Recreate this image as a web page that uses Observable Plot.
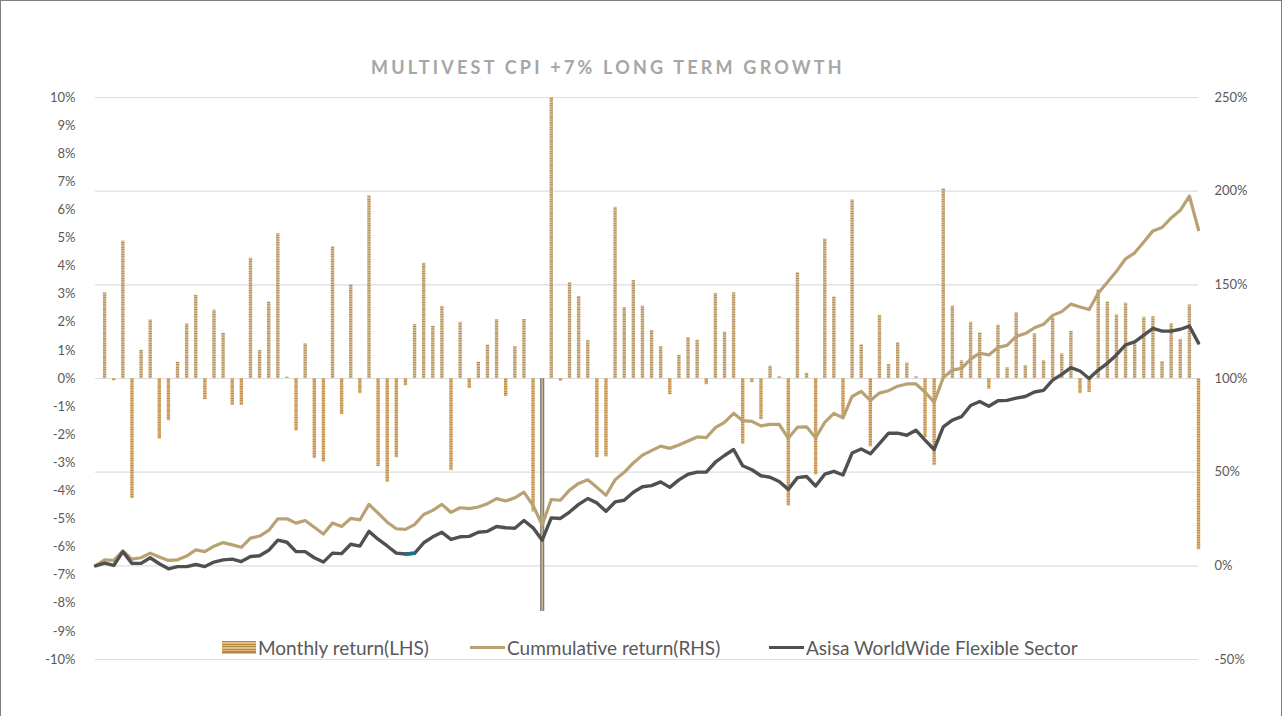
<!DOCTYPE html>
<html>
<head>
<meta charset="utf-8">
<script src="https://cdn.jsdelivr.net/npm/d3@7"></script>
<script src="https://cdn.jsdelivr.net/npm/@observablehq/plot@0.6"></script>
<style>
  body { margin: 0; background: #fff; }
  #frame { position: relative; width: 1280px; height: 720px; border: 1px solid #7f7f7f; overflow: hidden; font-family: Lato, "Open Sans", sans-serif; background: #fff; }
  #title { position: absolute; left: 0; top: 55px; width: 1214px; text-align: center; font-size: 18px; font-weight: 700; letter-spacing: 3.2px; color: #a6a6a6; }
  #chart { position: absolute; left: 0; top: 85px; }
  .leg { position: absolute; top: 635px; font-size: 19px; color: #595959; display: flex; align-items: center; white-space: nowrap; }
  .sw-bar { width: 34px; height: 13px; margin-right: 2px; background: repeating-linear-gradient(to bottom, #b8873e 0px, #b8873e 1.3px, #e2bf8a 1.3px, #e2bf8a 2.6px); }
  .sw-line { width: 35px; height: 3.5px; margin-right: 2px; }
</style>
</head>
<body>
<div id="frame">
  <div id="title">MULTIVEST CPI +7% LONG TERM GROWTH</div>
  <div id="chart"></div>
  <div class="leg" style="left:221px"><span class="sw-bar"></span>Monthly return(LHS)</div>
  <div class="leg" style="left:469px"><span class="sw-line" style="background:#b8a274"></span>Cummulative return(RHS)</div>
  <div class="leg" style="left:768px"><span class="sw-line" style="background:#505050"></span>Asisa WorldWide Flexible Sector</div>
</div>
<script>
// Monthly return (LHS, %), months 1..121
const monthly = [3.05, -0.08, 4.89, -4.27, 1.0, 2.08, -2.16, -1.5, 0.58, 1.94,
  2.96, -0.75, 2.43, 1.61, -0.96, -0.96, 4.28, 0.99, 2.72, 5.16,
  0.05, -1.86, 1.23, -2.85, -2.97, 4.69, -1.29, 3.33, -0.54, 6.5,
  -3.13, -3.7, -2.82, -0.26, 1.92, 4.1, 1.86, 2.57, -3.28, 2.0,
  -0.36, 0.58, 1.19, 2.09, -0.64, 1.14, 2.1, -4.75, -8.29, 10.0,
  -0.1, 3.41, 2.92, 1.35, -2.82, -2.79, 6.09, 2.52, 3.49, 2.58,
  1.71, 1.14, -0.58, 0.83, 1.45, 1.36, -0.22, 3.03, 1.65, 3.05,
  -2.34, -0.14, -1.47, 0.44, 0.06, -4.54, 3.76, 0.19, -3.43, 4.96,
  2.9, -1.42, 6.35, 1.2, -2.43, 2.25, 0.5, 1.27, 0.55, 0.06,
  -2.1, -3.1, 6.75, 2.58, 0.63, 2.0, 1.62, -0.38, 1.9, 0.38,
  2.34, 0.46, 1.59, 0.63, 2.16, 0.88, 1.68, -0.54, -0.5, 3.15,
  2.72, 2.26, 2.68, 1.23, 2.18, 2.2, 0.6, 1.95, 1.39, 2.62, -6.09];

// Highlighted (grey) month
const highlightMonth = 49;

// Cumulative return (RHS, %), months 0..121
const cumulative = [0, 3.2, 2.9, 8.0, 3.6, 4.3, 6.8, 4.7, 2.9, 3.2, 5.2, 8.5, 7.6, 10.5, 12.4, 11.2, 9.9, 14.8, 15.9, 18.9, 25.1,
  25.1, 22.8, 24.2, 20.6, 17.0, 22.8, 21.0, 25.3, 24.5, 32.8, 28.1, 23.3, 19.8, 19.5, 22.0, 27.4, 29.6, 32.8, 28.5, 31.0, 30.5,
  31.4, 33.2, 35.9, 34.6, 36.3, 39.3, 32.3, 21.8, 35.4, 35.0, 40.4, 44.0, 45.9, 41.9, 37.7, 45.9, 49.9, 54.9, 59.1, 61.5,
  63.9, 62.7, 64.5, 66.6, 68.8, 68.4, 73.8, 76.6, 81.4, 77.5, 77.1, 74.7, 75.5, 75.5, 68.1, 74.0, 74.2, 68.4, 76.6, 81.4, 79.0,
  90.4, 93.1, 88.3, 92.2, 93.5, 95.9, 97.1, 97.1, 92.8, 87.4, 100.4, 104.5, 105.4, 110.3, 113.5, 112.6, 116.6, 117.7, 122.5, 124.0,
  127.1, 128.9, 133.7, 135.7, 139.7, 138.2, 136.8, 145.5, 151.4, 157.2, 163.9, 167.1, 172.9, 178.8, 180.6, 185.7, 189.8, 197.4, 179.4];

// Asisa WorldWide Flexible Sector (RHS, %), months 0..121
const sector = [0, 1.4, 0.2, 7.6, 1.3, 1.3, 4.3, 1.1, -1.6, -0.4, -0.4, 0.7, -0.4, 2.0, 3.2, 3.6, 2.3, 5.0, 5.4, 8.3, 13.7,
  12.6, 7.6, 7.6, 4.3, 2.0, 6.8, 6.5, 11.5, 10.5, 18.4, 14.2, 10.6, 6.8, 6.3, 6.7, 12.3, 15.5, 17.9, 14.1, 15.5, 15.7,
  17.9, 18.4, 21.0, 20.3, 20.1, 24.2, 20.3, 13.7, 25.6, 25.3, 28.7, 32.8, 35.9, 33.6, 29.1, 34.1, 35.0, 39.3, 42.2, 42.8,
  44.8, 41.9, 45.9, 48.9, 50.0, 50.0, 55.3, 58.9, 62.1, 53.4, 51.3, 48.1, 47.3, 45.0, 40.8, 47.1, 47.7, 42.6, 48.9, 50.4, 48.5,
  60.2, 62.4, 59.8, 65.2, 70.8, 70.8, 69.7, 72.4, 67.1, 62.1, 74.2, 77.8, 79.6, 85.6, 87.7, 85.2, 88.1, 88.3, 89.5, 90.4,
  92.8, 93.7, 99.1, 102.2, 105.8, 104.0, 100.0, 104.5, 108.1, 112.6, 118.0, 119.5, 123.1, 126.7, 125.3, 125.3, 126.3, 128.0, 118.9];

// Teal-coloured segment of the sector line (months)
const tealSegment = [34, 35];

const leftTicks = [10, 9, 8, 7, 6, 5, 4, 3, 2, 1, 0, -1, -2, -3, -4, -5, -6, -7, -8, -9, -10];
const rightTicks = [250, 200, 150, 100, 50, 0, -50];

// RHS -> LHS mapping: -50..250 <-> -10..10
const toLeft = r => (r - 100) / 15;
const toRight = l => l * 15 + 100;

const bars = monthly.map((v, i) => ({k: i + 1, v}));
const cum = cumulative.map((v, k) => ({k, v}));
const sec = sector.map((v, k) => ({k, v}));
const teal = sec.filter(d => d.k >= tealSegment[0] && d.k <= tealSegment[1]);

const plot = Plot.plot({
  width: 1280,
  height: 630,
  marginTop: 11,
  marginBottom: 57,
  marginLeft: 94,
  marginRight: 83,
  style: {color: "#595959", fontFamily: "Lato, 'Open Sans', sans-serif", fontSize: "13px", background: "transparent"},
  x: {domain: [0, monthly.length], axis: null},
  y: {domain: [-10, 10], label: null},
  marks: [
    Plot.ruleY(rightTicks.map(toLeft), {stroke: "#dedede", strokeWidth: 1.2}),
    Plot.ruleX(bars, {filter: d => d.v >= 0 && d.k !== highlightMonth, x: "k", y1: 0, y2: "v", stroke: "url(#patPos)", strokeWidth: 3.4}),
    Plot.ruleX(bars, {filter: d => d.v < 0 && d.k !== highlightMonth, x: "k", y1: 0, y2: "v", stroke: "url(#patNeg)", strokeWidth: 3.4}),
    Plot.ruleX(bars, {filter: d => d.k === highlightMonth, x: "k", y1: 0, y2: "v", stroke: "#7f7f7f", strokeWidth: 4.2}),
    Plot.ruleX(bars, {filter: d => d.k === highlightMonth, x: "k", y1: 0, y2: "v", stroke: "#c9b793", strokeWidth: 1.5}),
    Plot.line(cum, {x: "k", y: d => toLeft(d.v), stroke: "#b8a274", strokeWidth: 3.2, strokeLinejoin: "round"}),
    Plot.line(sec, {x: "k", y: d => toLeft(d.v), stroke: "#505050", strokeWidth: 3.4, strokeLinejoin: "round"}),
    Plot.line(teal, {x: "k", y: d => toLeft(d.v), stroke: "#1f6e86", strokeWidth: 3.4}),
    Plot.axisY({anchor: "left", label: null, ticks: leftTicks, tickFormat: d => d + "%", tickSize: 0, tickPadding: 20, fontSize: 13}),
    Plot.axisY({anchor: "right", label: null, ticks: rightTicks.map(toLeft), tickFormat: d => Math.round(toRight(d)) + "%", tickSize: 0, tickPadding: 16, fontSize: 13})
  ]
});

// stripe patterns for the monthly bars
const ns = "http://www.w3.org/2000/svg";
const defs = document.createElementNS(ns, "defs");
function addPattern(id, dark, light) {
  const p = document.createElementNS(ns, "pattern");
  p.setAttribute("id", id);
  p.setAttribute("patternUnits", "userSpaceOnUse");
  p.setAttribute("width", "4");
  p.setAttribute("height", "2.4");
  const r1 = document.createElementNS(ns, "rect");
  r1.setAttribute("width", "4"); r1.setAttribute("height", "1.3"); r1.setAttribute("fill", dark);
  const r2 = document.createElementNS(ns, "rect");
  r2.setAttribute("y", "1.3"); r2.setAttribute("width", "4"); r2.setAttribute("height", "1.1"); r2.setAttribute("fill", light);
  p.appendChild(r1); p.appendChild(r2);
  defs.appendChild(p);
}
addPattern("patPos", "#a98650", "#dcc196");
addPattern("patNeg", "#b9823a", "#e0b577");
plot.insertBefore(defs, plot.firstChild);

document.getElementById("chart").appendChild(plot);
</script>
</body>
</html>
